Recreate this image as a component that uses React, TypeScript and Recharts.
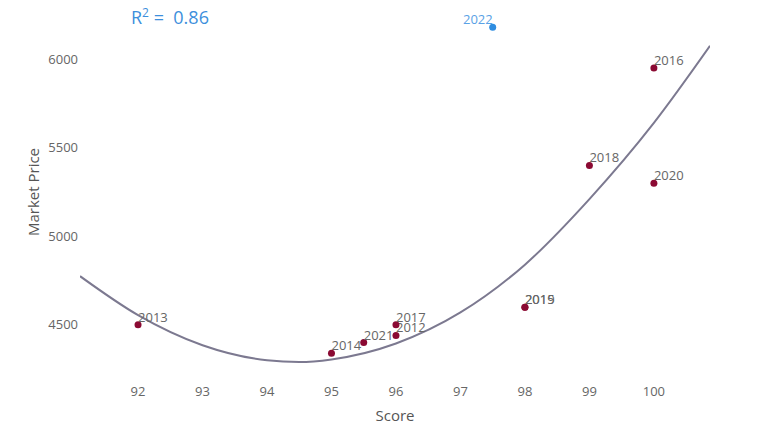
import { ComposedChart, Scatter, Line, XAxis, YAxis, Label } from 'recharts';

// scores and prices per year (2022 is highlighted)
const years = [2012, 2013, 2014, 2015, 2016, 2017, 2018, 2019, 2020, 2021];
const scores = [96, 92, 95, 98, 100, 96, 99, 98, 100, 95.5];
const prices = [4440, 4500, 4340, 4600, 5950, 4500, 5400, 4600, 5300, 4400];

const highlightYear = [2022];
const highlightScore = [97.5];
const highlightPrice = [6180];

// trend curve
const trendScores = [91.1, 92, 93, 94, 94.5, 95, 96, 97, 98, 99, 100, 100.87];
const trendPrices = [4775, 4555, 4385, 4300, 4290, 4305, 4395, 4570, 4840, 5210, 5640, 6075];

const xTicks = [92, 93, 94, 95, 96, 97, 98, 99, 100];
const yTicks = [4500, 5000, 5500, 6000];
const rSquared = '0.86';

const points = years.map((year, i) => ({ year, x: scores[i], y: prices[i] }));
const highlight = highlightYear.map((year, i) => ({ year, x: highlightScore[i], y: highlightPrice[i] }));
const trend = trendScores.map((x, i) => ({ x, y: trendPrices[i] }));

const font = '"Open Sans", "Noto Sans", sans-serif';

const makeDot = (fill: string, textFill: string, anchor: 'start' | 'end') => (props: any) => {
  const { cx, cy, payload } = props;
  return (
    <g>
      <circle cx={cx} cy={cy} r={3.5} fill={fill} />
      <text x={cx} y={cy - 3} fill={textFill} fontSize={13} fontFamily={font} textAnchor={anchor}>
        {payload.year}
      </text>
    </g>
  );
};

const App = () => {
  return (
    <div style={{ position: 'absolute', left: 0, top: 0, width: 768, height: 435, background: '#fff' }}>
      <ComposedChart width={768} height={435} margin={{ top: 6, right: 58, bottom: 17, left: 20 }}>
        <XAxis
          type="number"
          dataKey="x"
          domain={[91.1, 100.87]}
          ticks={xTicks}
          allowDataOverflow
          axisLine={false}
          tickLine={false}
          tickSize={0}
          tickMargin={9}
          height={40}
          tick={{ fill: '#666', fontSize: 13, fontFamily: font }}
        >
          <Label value="Score" position="insideBottom" offset={-3} fill="#555" fontSize={15} fontFamily={font} />
        </XAxis>
        <YAxis
          type="number"
          dataKey="y"
          domain={[4200, 6300]}
          ticks={yTicks}
          allowDataOverflow
          axisLine={false}
          tickLine={false}
          tickSize={0}
          tickMargin={2}
          width={60}
          tick={{ fill: '#666', fontSize: 13, fontFamily: font }}
        >
          <Label
            content={() => (
              <text
                x={33}
                y={192}
                transform="rotate(-90 33 192)"
                textAnchor="middle"
                dominantBaseline="central"
                fill="#555"
                fontSize={15}
                fontFamily={font}
              >
                Market Price
              </text>
            )}
          />
        </YAxis>
        <Line
          data={trend}
          dataKey="y"
          type="monotone"
          stroke="#7c7990"
          strokeWidth={2}
          dot={false}
          activeDot={false}
          isAnimationActive={false}
        />
        <Scatter data={points} dataKey="y" shape={makeDot('#8b0a33', '#666', 'start')} isAnimationActive={false} />
        <Scatter data={highlight} dataKey="y" shape={makeDot('#2f8de0', '#5aa2e6', 'end')} isAnimationActive={false} />
      </ComposedChart>
      <div
        style={{
          position: 'absolute',
          left: 131,
          top: 4,
          fontFamily: font,
          fontSize: 18,
          color: '#3d8fdc',
          whiteSpace: 'pre',
        }}
      >
        R<sup style={{ fontSize: 12 }}>2</sup> =  {rSquared}
      </div>
    </div>
  );
};

export default App;
